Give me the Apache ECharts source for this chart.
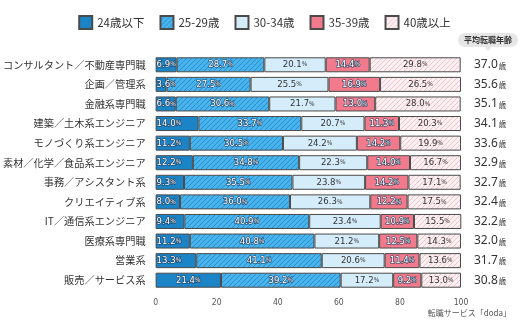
<!DOCTYPE html>
<html><head><meta charset="utf-8">
<script src="https://cdn.jsdelivr.net/npm/echarts@6/dist/echarts.min.js"></script>
<style>html,body{margin:0;padding:0;background:#fff}#c{width:529px;height:322px}</style>
</head><body><div id="c"></div>
<script>
const categories = ['コンサルタント／不動産専門職','企画／管理系','金融系専門職','建築／土木系エンジニア','モノづくり系エンジニア','素材／化学／食品系エンジニア','事務／アシスタント系','クリエイティブ系','IT／通信系エンジニア','医療系専門職','営業系','販売／サービス系'];
const seriesNames = ['24歳以下','25-29歳','30-34歳','35-39歳','40歳以上'];
const age24 = [6.9,3.6,6.6,14.0,11.2,12.2,9.3,8.0,9.4,11.2,13.3,21.4];
const age25 = [28.7,27.5,30.6,33.7,30.5,34.8,35.5,36.0,40.9,40.8,41.1,39.2];
const age30 = [20.1,25.5,21.7,20.7,24.2,22.3,23.8,26.3,23.4,21.2,20.6,17.2];
const age35 = [14.4,16.9,13.0,11.3,14.2,14.0,14.2,12.2,10.9,12.5,11.4,9.2];
const age40 = [29.8,26.5,28.0,20.3,19.9,16.7,17.1,17.5,15.5,14.3,13.6,13.0];
const avgAge = [37.0,35.6,35.1,34.1,33.6,32.9,32.7,32.4,32.2,32.0,31.7,30.8];
const xTicks = [0,20,40,60,80,100];

function hatch(bg, line){
  const s = 5, c = document.createElement('canvas');
  c.width = s; c.height = s;
  const g = c.getContext('2d');
  g.fillStyle = bg; g.fillRect(0,0,s,s);
  g.strokeStyle = line; g.lineWidth = 1;
  g.beginPath();
  g.moveTo(-1, s+1); g.lineTo(s+1, -1);
  g.moveTo(-1, 1); g.lineTo(1, -1);
  g.moveTo(s-1, s+1); g.lineTo(s+1, s-1);
  g.stroke();
  return {image: c, repeat: 'repeat'};
}

const fills = ['#1a84c7', hatch('#49b3ec','#2a8fd2'), '#d5ecfb', '#f17b8d', hatch('#fdf0f2','#f3c3cb')];
const numFont = '"Liberation Sans Narrow","DejaVu Sans Condensed",sans-serif';
const white = {color:'#fff', textBorderColor:'#24405e', textBorderWidth:1.2};
const dark = {color:'#333', textBorderWidth:0};
const labelStyles = [white, white, dark, white, dark];
const dataSets = [age24, age25, age30, age35, age40];

const series = dataSets.map((arr, si) => ({
  name: seriesNames[si],
  type: 'bar',
  stack: 'total',
  barWidth: 15,
  itemStyle: {color: fills[si], borderColor: '#4a4a4a', borderWidth: 1},
  data: arr.map(v => ({
    value: v,
    label: {position: (si === 0 && v < 16) ? 'insideLeft' : 'inside', distance: 1}
  })),
  label: {
    show: true,
    formatter: p => '{n|' + p.value.toFixed(1) + '}{p|%}',
    rich: {
      n: Object.assign({fontSize: 9.5, fontFamily: numFont}, labelStyles[si]),
      p: Object.assign({fontSize: 6.5, fontFamily: numFont}, labelStyles[si])
    }
  },
  emphasis: {disabled: true}
}));

const chart = echarts.init(document.getElementById('c'), null, {renderer: 'canvas'});
chart.setOption({
  animation: false,
  legend: {
    top: 10, left: 'center',
    itemWidth: 13, itemHeight: 13, itemGap: 15,
    icon: 'rect',
    textStyle: {fontSize: 11.5, color: '#333', fontFamily: '"Noto Sans CJK JP",sans-serif'},
    data: seriesNames
  },
  grid: {left: 155, right: 68, top: 55, bottom: 32, containLabel: false},
  xAxis: {
    type: 'value', min: 0, max: 100, interval: 20,
    axisLine: {show: false}, axisTick: {show: false}, splitLine: {show: false},
    axisLabel: {fontSize: 8.5, color: '#555', margin: 8, fontFamily: numFont,
      formatter: v => xTicks.includes(v) ? String(v) : ''}
  },
  yAxis: [{
    type: 'category', data: categories, inverse: true,
    axisLine: {show: false}, axisTick: {show: false},
    axisLabel: {fontSize: 10.2, color: '#333', margin: 10, fontFamily: '"Noto Sans CJK JP",sans-serif'}
  }, {
    type: 'category', data: categories, inverse: true, position: 'right',
    axisLine: {show: false}, axisTick: {show: false},
    axisLabel: {
      margin: 13,
      formatter: (v, i) => '{a|' + avgAge[i].toFixed(1) + '}{b|歳}',
      rich: {
        a: {fontSize: 12, color: '#333', fontFamily: '"Noto Sans","DejaVu Sans",sans-serif'},
        b: {fontSize: 7.5, color: '#333', fontFamily: '"Noto Sans CJK JP",sans-serif', padding: [2,0,0,1]}
      }
    }
  }],
  graphic: [
    {type: 'polygon', shape: {points: [[484,46],[492,46],[488,51]]}, style: {fill: '#e6e6e6'}, z: 10},
    {type: 'text', left: 458, top: 33, z: 11,
      style: {text: '平均転職年齢', fontSize: 8, fontWeight: 'bold', fill: '#333',
        fontFamily: '"Noto Sans CJK JP",sans-serif',
        backgroundColor: '#e6e6e6', borderRadius: 7, padding: [3,6,3,6]}},
    {type: 'text', right: 18, top: 309,
      style: {text: '転職サービス「doda」', fontSize: 8, fill: '#555',
        fontFamily: '"Noto Sans CJK JP",sans-serif'}}
  ],
  series: series
});
</script></body></html>
